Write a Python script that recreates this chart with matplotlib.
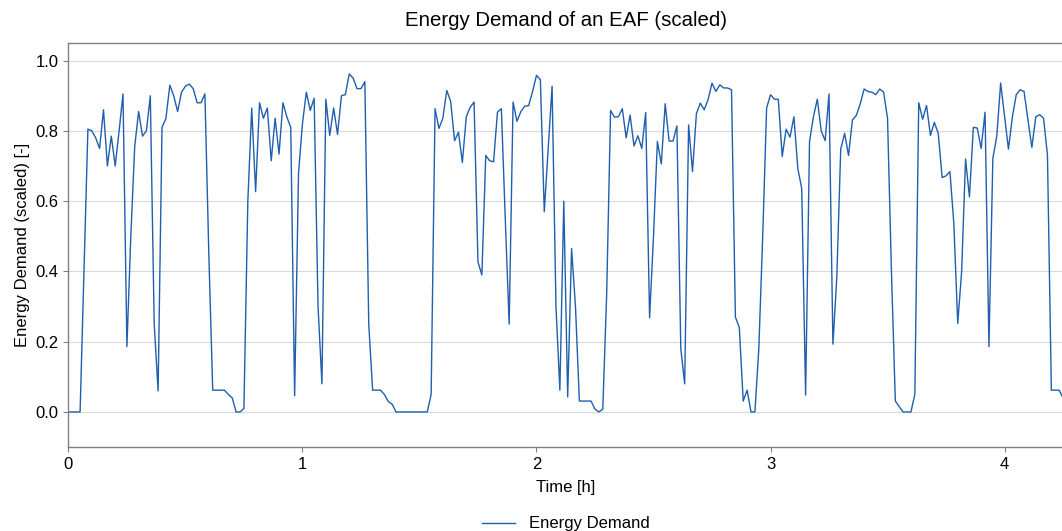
import matplotlib
matplotlib.use("Agg")
import matplotlib.pyplot as plt
import numpy as np

plt.rcParams['font.family'] = ['Liberation Sans', 'DejaVu Sans']

# Energy demand (scaled), one sample per minute
demand = [
    0.0, 0.0, 0.0, 0.0, 0.40, 0.805, 0.80, 0.78, 0.75, 0.86,
    0.70, 0.785, 0.70, 0.80, 0.905, 0.186, 0.50, 0.755, 0.855, 0.785,
    0.80, 0.90, 0.25, 0.06, 0.81, 0.835, 0.93, 0.90, 0.855, 0.91,
    0.927, 0.933, 0.92, 0.88, 0.88, 0.905, 0.45, 0.062, 0.062, 0.062,
    0.062, 0.05, 0.04, 0.0, 0.0, 0.01, 0.60, 0.865, 0.627, 0.88,
    0.836, 0.865, 0.715, 0.836, 0.734, 0.88, 0.84, 0.81, 0.046, 0.68,
    0.82, 0.91, 0.858, 0.893, 0.30, 0.08, 0.89, 0.787, 0.865, 0.79,
    0.90, 0.903, 0.962, 0.95, 0.92, 0.92, 0.94, 0.25, 0.062, 0.062,
    0.062, 0.05, 0.03, 0.022, 0.0, 0.0, 0.0, 0.0, 0.0, 0.0,
    0.0, 0.0, 0.0, 0.05, 0.863, 0.807, 0.836, 0.915, 0.884, 0.772,
    0.796, 0.71, 0.84, 0.867, 0.882, 0.427, 0.39, 0.73, 0.715, 0.712,
    0.853, 0.863, 0.55, 0.25, 0.882, 0.827, 0.855, 0.87, 0.872, 0.912,
    0.958, 0.946, 0.57, 0.75, 0.927, 0.30, 0.062, 0.60, 0.043, 0.465,
    0.30, 0.031, 0.031, 0.031, 0.031, 0.008, 0.0, 0.008, 0.336, 0.858,
    0.839, 0.84, 0.863, 0.78, 0.845, 0.757, 0.786, 0.75, 0.852, 0.268,
    0.50, 0.77, 0.706, 0.877, 0.771, 0.771, 0.814, 0.18, 0.08, 0.817,
    0.684, 0.849, 0.879, 0.86, 0.889, 0.936, 0.912, 0.931, 0.922, 0.922,
    0.917, 0.27, 0.24, 0.031, 0.062, 0.0, 0.0, 0.18, 0.50, 0.865,
    0.903, 0.89, 0.89, 0.727, 0.805, 0.782, 0.84, 0.693, 0.636, 0.048,
    0.77, 0.84, 0.89, 0.80, 0.772, 0.905, 0.193, 0.384, 0.748, 0.793,
    0.73, 0.831, 0.844, 0.877, 0.919, 0.912, 0.91, 0.903, 0.919, 0.91,
    0.836, 0.40, 0.031, 0.015, 0.0, 0.0, 0.0, 0.05, 0.88, 0.833,
    0.872, 0.787, 0.824, 0.793, 0.667, 0.672, 0.684, 0.536, 0.252, 0.40,
    0.72, 0.612, 0.81, 0.808, 0.75, 0.853, 0.186, 0.722, 0.784, 0.936,
    0.843, 0.748, 0.839, 0.903, 0.917, 0.912, 0.831, 0.753, 0.84, 0.846,
    0.836, 0.731, 0.062, 0.062, 0.062, 0.04,
]
time_h = np.arange(len(demand)) / 60.0

x_ticks = [0, 1, 2, 3, 4]
y_ticks = [0.0, 0.2, 0.4, 0.6, 0.8, 1.0]

fig = plt.figure(figsize=(10.62, 5.31), dpi=100)
ax = fig.add_axes([0.0644, 0.158, 0.9366, 0.761])

ax.plot(time_h, demand, color='#1f5fae', lw=1.0, label='Energy Demand')

ax.set_xlim(0, time_h[-1])
ax.set_ylim(-0.1, 1.05)
ax.set_xticks(x_ticks)
ax.set_yticks(y_ticks)
ax.set_yticklabels([f"{v:.1f}" for v in y_ticks])
ax.grid(axis='y', color='#d9d9d9', lw=0.8)
ax.set_axisbelow(True)

for s in ['left', 'bottom', 'top', 'right']:
    ax.spines[s].set_color('#808080')
    ax.spines[s].set_linewidth(1.0)

ax.tick_params(axis='both', labelsize=12, colors='#808080', labelcolor='black', length=3.5)

ax.set_title('Energy Demand of an EAF (scaled)', fontsize=14.7, pad=12)
ax.set_xlabel('Time [h]', fontsize=12, labelpad=6)
ax.set_ylabel('Energy Demand (scaled) [-]', fontsize=12)

ax.legend(loc='center', bbox_to_anchor=(0.5, -0.19), frameon=False, fontsize=12)

fig.savefig('out.png', dpi=100)
